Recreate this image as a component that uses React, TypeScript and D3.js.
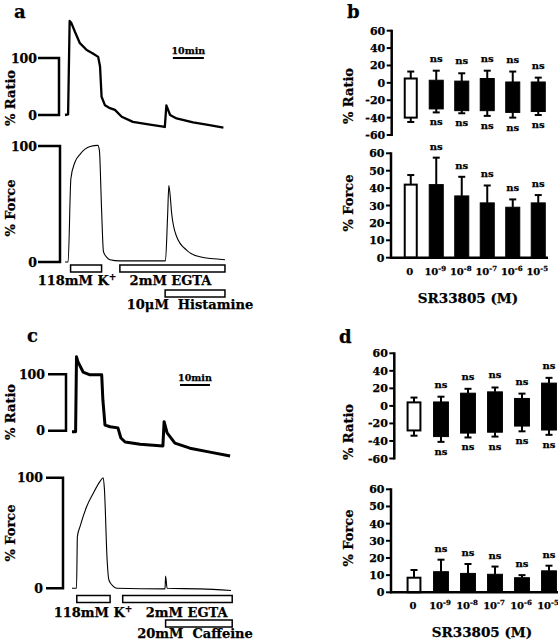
import React from "react";
import * as d3 from "d3";

const FONT = "'DejaVu Serif', 'Liberation Serif', serif";

// ---------- Traces: [time (min), value (%)] ----------
const aRatioTrace: [number, number][] = [
  [0, 0], [1.0, 1], [1.5, 165], [2.0, 162], [3.2, 146], [4.8, 126], [7.0, 114], [9.0, 108], [10.7, 102],
  [11.3, 85], [11.8, 32], [12.9, 17], [14.5, 12], [16.1, 9], [18.3, -3], [21.9, -12], [27.4, -17], [32.2, -21],
  [32.7, 17], [33.9, 0], [36.0, -6], [41.3, -13], [45.7, -17], [51.1, -22],
];
const aForceTrace: [number, number][] = [
  [0, 0], [1.0, 0], [1.9, 72], [3.2, 86], [4.9, 93], [8.1, 99.5], [10.6, 100.5], [11.1, 96], [11.8, 45],
  [12.4, 9], [13.5, 4], [14.5, 2], [17.7, 1], [32.4, 1], [33.1, 40], [33.5, 66], [34.0, 55], [34.4, 42],
  [36.0, 22], [39.3, 10], [43.5, 4.5], [51.6, 2],
];
const cRatioTrace: [number, number][] = [
  [0, -2], [1.2, -2], [1.5, 131], [2.0, 122], [3.7, 104], [6.0, 99], [9.9, 99], [10.3, 54], [11.0, 10],
  [12.7, 7], [15.3, 5], [16.3, -13], [17.7, -20], [22.7, -24], [30.3, -27], [30.7, 16], [31.7, -4],
  [34.3, -22], [39.3, -31], [46.0, -38], [52.7, -45],
];
const cForceTrace: [number, number][] = [
  [0, 0], [1.5, 0], [1.8, 47], [2.7, 56], [4.9, 74], [7.1, 86], [9.3, 96.4], [10.4, 100], [10.8, 90],
  [11.7, 26], [12.3, 7.5], [13.7, 2], [15, 0], [31.0, -0.5], [31.2, 11], [31.7, 0], [42.7, -0.5], [53.0, -2],
];

const traceTicks = [0, 100];
const scaleBarMinutes = 10;
const aScaleBarStart = 34.8;
const cScaleBarStart = 36;

const aSolutionNames = ["118mM K", "2mM EGTA", "10μM  Histamine"];
const aSolutionSup = ["+", "", ""];
const aSolutionStart = [1.8, 17.7, 32.3];
const aSolutionEnd = [11.8, 51.6, 51.6];
const aSolutionRow = [0, 0, 1];

const cSolutionNames = ["118mM K", "2mM EGTA", "20mM  Caffeine"];
const cSolutionSup = ["+", "", ""];
const cSolutionStart = [1.6, 16.9, 31.2];
const cSolutionEnd = [12.7, 53.4, 53.4];
const cSolutionRow = [0, 0, 1];

// ---------- Bar data ----------
const concKeys = ["0", "1e-9", "1e-8", "1e-7", "1e-6", "1e-5"];
const concBase = ["0", "10", "10", "10", "10", "10"];
const concExp = ["", "-9", "-8", "-7", "-6", "-5"];
const sigLabels = ["", "ns", "ns", "ns", "ns", "ns"];

const ratioTicks = [-60, -40, -20, 0, 20, 40, 60];
const forceTicks = [0, 10, 20, 30, 40, 50, 60];

const bRatioHigh = [5, 3, 2, 5, 1, 1];
const bRatioLow = [-40, -30, -32, -32, -34, -33];
const bRatioErrHigh = [13, 14, 11, 14, 13, 6];
const bRatioErrLow = [-45, -34, -35, -38, -40, -37];
const bForceMean = [42, 42, 35.5, 31.5, 29, 31.5];
const bForceErr = [47.5, 57.5, 46.5, 41.5, 33.5, 36];

const dRatioHigh = [4, 4.5, 14.5, 16, 8.5, 26];
const dRatioLow = [-28, -35, -31, -30, -23, -27.5];
const dRatioErrHigh = [9.5, 10.5, 19.5, 21, 14, 32];
const dRatioErrLow = [-34, -41, -36, -35, -29, -33];
const dForceMean = [8.5, 12, 11, 10.5, 8.5, 12.5];
const dForceErr = [13, 19, 16.5, 15, 10, 15.5];

const xTitle = "SR33805 (M)";

// ---------- helpers ----------
type Lin = d3.ScaleLinear<number, number>;

function T(props: any) {
  const { children, size = 12, ...rest } = props;
  return (
    <text
      fontFamily={FONT}
      fontWeight="bold"
      fontSize={size}
      fill="#000"
      stroke="#000"
      strokeWidth={0.25}
      style={{ whiteSpace: "pre" }}
      {...rest}
    >
      {children}
    </text>
  );
}

function VTitle({ x, y, label, size = 13 }: any) {
  return (
    <T size={size} transform={`translate(${x},${y}) rotate(-90)`} textAnchor="middle">
      {label}
    </T>
  );
}

function Bracket({ y, axisX, left, labelRight }: { y: Lin; axisX: number; left: number; labelRight: number }) {
  const yTop = y(traceTicks[1]);
  const yBot = y(traceTicks[0]);
  return (
    <g>
      <path d={`M${left},${yTop}H${axisX}V${yBot}H${left}`} fill="none" stroke="#000" strokeWidth={2.5} />
      {traceTicks.map((t) => (
        <T key={t} x={labelRight} y={y(t) + 4.5} textAnchor="end" size={12.5}>
          {t}
        </T>
      ))}
    </g>
  );
}

function Trace({ data, x, y, width, curve }: any) {
  const line = d3
    .line<[number, number]>()
    .x((d) => x(d[0]))
    .y((d) => y(d[1]))
    .curve(curve);
  return <path d={line(data) || ""} fill="none" stroke="#000" strokeWidth={width} strokeLinejoin="round" />;
}

function Solutions({ x, names, sups, starts, ends, rows, rowY, labelX, labelY }: any) {
  return (
    <g>
      {names.map((n: string, i: number) => (
        <g key={n}>
          <rect
            x={x(starts[i])}
            y={rowY[rows[i]]}
            width={x(ends[i]) - x(starts[i])}
            height={7}
            fill="#fff"
            stroke="#000"
            strokeWidth={1.5}
          />
          <T x={labelX[i]} y={labelY[i]} textAnchor="middle" size={13}>
            {n}
            {sups[i] ? (
              <tspan fontSize={9} dy={-5}>
                {sups[i]}
              </tspan>
            ) : null}
          </T>
        </g>
      ))}
    </g>
  );
}

function ScaleBar({ x, start, y }: any) {
  const x0 = x(start);
  const x1 = x(start + scaleBarMinutes);
  return (
    <g>
      <line x1={x0} x2={x1} y1={y} y2={y} stroke="#000" strokeWidth={2} />
      <T x={(x0 + x1) / 2} y={y - 4.5} textAnchor="middle" size={9.5}>
        10min
      </T>
    </g>
  );
}

function YAxis({ y, axisX, ticks }: { y: Lin; axisX: number; ticks: number[] }) {
  return (
    <g>
      <line
        x1={axisX}
        x2={axisX}
        y1={y(ticks[0]) + 1}
        y2={y(ticks[ticks.length - 1]) - 1}
        stroke="#000"
        strokeWidth={2.5}
      />
      {ticks.map((t) => (
        <g key={t}>
          <line x1={axisX - 5} x2={axisX} y1={y(t)} y2={y(t)} stroke="#000" strokeWidth={2} />
          <T x={axisX - 6.5} y={y(t) + 4} textAnchor="end" size={11}>
            {t}
          </T>
        </g>
      ))}
    </g>
  );
}

function ErrLine({ cx, yFrom, yTo }: any) {
  return (
    <g>
      <line x1={cx} x2={cx} y1={yFrom} y2={yTo} stroke="#000" strokeWidth={2} />
      <line x1={cx - 3.5} x2={cx + 3.5} y1={yTo} y2={yTo} stroke="#000" strokeWidth={2} />
    </g>
  );
}

function RatioBars({ xb, y, high, low, errHigh, errLow }: any) {
  const bw = xb.bandwidth();
  return (
    <g>
      {concKeys.map((k, i) => {
        const cx = (xb(k) as number) + bw / 2;
        const open = i === 0;
        return (
          <g key={k}>
            <ErrLine cx={cx} yFrom={y(high[i])} yTo={y(errHigh[i])} />
            <ErrLine cx={cx} yFrom={y(low[i])} yTo={y(errLow[i])} />
            <rect
              x={(xb(k) as number) + (open ? 1 : 0)}
              y={y(high[i])}
              width={bw - (open ? 2 : 0)}
              height={y(low[i]) - y(high[i])}
              fill={open ? "#fff" : "#000"}
              stroke="#000"
              strokeWidth={open ? 2 : 1}
            />
            {sigLabels[i] ? (
              <>
                <T x={cx} y={y(errHigh[i]) - 9} textAnchor="middle" size={10}>
                  {sigLabels[i]}
                </T>
                <T x={cx} y={y(errLow[i]) + 13} textAnchor="middle" size={10}>
                  {sigLabels[i]}
                </T>
              </>
            ) : null}
          </g>
        );
      })}
    </g>
  );
}

function ForceBars({ xb, y, mean, err, axisX, right, labelY, titleX, titleY }: any) {
  const bw = xb.bandwidth();
  return (
    <g>
      {concKeys.map((k, i) => {
        const cx = (xb(k) as number) + bw / 2;
        const open = i === 0;
        return (
          <g key={k}>
            <ErrLine cx={cx} yFrom={y(mean[i])} yTo={y(err[i])} />
            <rect
              x={(xb(k) as number) + (open ? 1 : 0)}
              y={y(mean[i])}
              width={bw - (open ? 2 : 0)}
              height={y(0) - y(mean[i])}
              fill={open ? "#fff" : "#000"}
              stroke="#000"
              strokeWidth={open ? 2 : 1}
            />
            {sigLabels[i] ? (
              <T x={cx} y={y(err[i]) - 8} textAnchor="middle" size={10}>
                {sigLabels[i]}
              </T>
            ) : null}
            <T x={cx - 1} y={labelY} textAnchor="middle" size={10}>
              {concBase[i]}
              {concExp[i] ? (
                <tspan fontSize={7} dy={-4}>
                  {concExp[i]}
                </tspan>
              ) : null}
            </T>
          </g>
        );
      })}
      <line x1={axisX} x2={right} y1={y(0)} y2={y(0)} stroke="#000" strokeWidth={2.5} />
      <T x={titleX} y={titleY} textAnchor="middle" size={13.5}>
        {xTitle}
      </T>
    </g>
  );
}

export default function App() {
  // Panel a scales
  const aX = d3.scaleLinear().domain([0, 10]).range([65, 96]);
  const aRatioY = d3.scaleLinear().domain([0, 100]).range([115, 58]);
  const aForceY = d3.scaleLinear().domain([0, 100]).range([262, 146]);
  // Panel c scales
  const cX = d3.scaleLinear().domain([0, 10]).range([72, 102]);
  const cRatioY = d3.scaleLinear().domain([0, 100]).range([430.7, 374.3]);
  const cForceY = d3.scaleLinear().domain([0, 100]).range([588.3, 477.7]);

  // Panel b scales
  const bX = d3.scaleBand<string>().domain(concKeys).range([398, 551]).paddingInner(0.45).paddingOuter(0.225);
  const bRatioY = d3.scaleLinear().domain([-60, 60]).range([135, 30.7]);
  const bForceY = d3.scaleLinear().domain([0, 60]).range([257.7, 153.3]);
  // Panel d scales
  const dX = d3.scaleBand<string>().domain(concKeys).range([400.5, 562.5]).paddingInner(0.45).paddingOuter(0.225);
  const dRatioY = d3.scaleLinear().domain([-60, 60]).range([458.5, 353.3]);
  const dForceY = d3.scaleLinear().domain([0, 60]).range([592.3, 489.3]);

  return (
    <svg
      width={558}
      height={640}
      viewBox="0 0 558 640"
      style={{ position: "absolute", left: 0, top: 0, background: "#fff" }}
    >
      <rect x={0} y={0} width={558} height={640} fill="#fff" />

      {/* Panel labels */}
      <T x={14} y={18} size={18}>a</T>
      <T x={347} y={18} size={18}>b</T>
      <T x={27} y={342} size={18}>c</T>
      <T x={339} y={343} size={18}>d</T>

      {/* ---------- Panel a ---------- */}
      <Bracket y={aRatioY} axisX={59} left={38} labelRight={37} />
      <Bracket y={aForceY} axisX={60} left={38} labelRight={37} />
      <VTitle x={15} y={98} label="% Ratio" />
      <VTitle x={15} y={208} label="% Force" />
      <Trace data={aRatioTrace} x={aX} y={aRatioY} width={2.3} curve={d3.curveLinear} />
      <Trace data={aForceTrace} x={aX} y={aForceY} width={1.1} curve={d3.curveMonotoneX} />
      <ScaleBar x={aX} start={aScaleBarStart} y={58} />
      <Solutions
        x={aX}
        names={aSolutionNames}
        sups={aSolutionSup}
        starts={aSolutionStart}
        ends={aSolutionEnd}
        rows={aSolutionRow}
        rowY={[265, 290]}
        labelX={[77, 170.5, 190]}
        labelY={[285, 285, 309]}
      />

      {/* ---------- Panel c ---------- */}
      <Bracket y={cRatioY} axisX={66} left={48} labelRight={45} />
      <Bracket y={cForceY} axisX={63} left={46} labelRight={43} />
      <VTitle x={15} y={412} label="% Ratio" />
      <VTitle x={15} y={533} label="% Force" />
      <Trace data={cRatioTrace} x={cX} y={cRatioY} width={3} curve={d3.curveLinear} />
      <Trace data={cForceTrace} x={cX} y={cForceY} width={1.1} curve={d3.curveMonotoneX} />
      <ScaleBar x={cX} start={cScaleBarStart} y={385} />
      <Solutions
        x={cX}
        names={cSolutionNames}
        sups={cSolutionSup}
        starts={cSolutionStart}
        ends={cSolutionEnd}
        rows={cSolutionRow}
        rowY={[595.5, 620]}
        labelX={[93, 186.7, 195]}
        labelY={[617, 617, 638]}
      />

      {/* ---------- Panel b ---------- */}
      <VTitle x={353} y={96} label="% Ratio" />
      <VTitle x={353} y={203} label="% Force" />
      <YAxis y={bRatioY} axisX={391.7} ticks={ratioTicks} />
      <RatioBars xb={bX} y={bRatioY} high={bRatioHigh} low={bRatioLow} errHigh={bRatioErrHigh} errLow={bRatioErrLow} />
      <YAxis y={bForceY} axisX={391} ticks={forceTicks} />
      <ForceBars
        xb={bX}
        y={bForceY}
        mean={bForceMean}
        err={bForceErr}
        axisX={390}
        right={548}
        labelY={275}
        titleX={468}
        titleY={303}
      />

      {/* ---------- Panel d ---------- */}
      <VTitle x={353} y={432} label="% Ratio" />
      <VTitle x={353} y={538} label="% Force" />
      <YAxis y={dRatioY} axisX={394.3} ticks={ratioTicks} />
      <RatioBars xb={dX} y={dRatioY} high={dRatioHigh} low={dRatioLow} errHigh={dRatioErrHigh} errLow={dRatioErrLow} />
      <YAxis y={dForceY} axisX={391} ticks={forceTicks} />
      <ForceBars
        xb={dX}
        y={dForceY}
        mean={dForceMean}
        err={dForceErr}
        axisX={390}
        right={558}
        labelY={609}
        titleX={482}
        titleY={637}
      />
    </svg>
  );
}
